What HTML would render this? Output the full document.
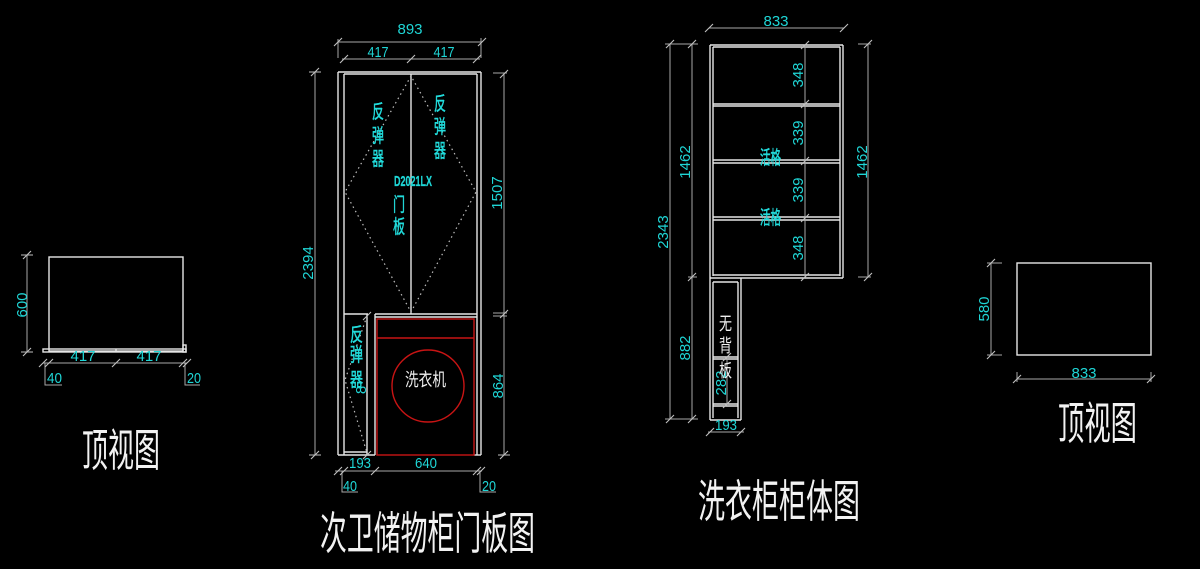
<!DOCTYPE html>
<html><head><meta charset="utf-8"><style>
html,body{margin:0;padding:0;background:#000;}
svg{display:block}
.w{stroke:#e6e6e6;stroke-width:1.4;fill:none}
.d{stroke:#a8a8a8;stroke-width:1;fill:none}
.t{stroke:#c0c0c0;stroke-width:1.1;fill:none}
.r{stroke:#c81414;stroke-width:1.4;fill:none}
.dot{stroke:#bdbdbd;stroke-width:1.2;fill:none;stroke-dasharray:1.5 3.5}
.c{fill:#1fd6d6;font-family:"Liberation Sans",sans-serif;font-size:15px}
.cj{fill:#22dcdc;stroke:#22dcdc;stroke-width:0.5;font-family:"Liberation Sans","Noto Sans CJK SC",sans-serif;font-size:19px}
.wj{fill:#f0f0f0;font-family:"Liberation Sans","Noto Sans CJK SC",sans-serif;font-size:18px}
.ti{fill:#f2f2f2;font-family:"Liberation Sans","Noto Sans CJK SC",sans-serif;font-size:45px}
</style></head><body>
<svg width="1200" height="569" viewBox="0 0 1200 569" xmlns="http://www.w3.org/2000/svg">
<rect width="1200" height="569" fill="#000"/>

<!-- ===== Left top view ===== -->
<rect class="w" x="49" y="257" width="134" height="94"/>
<rect class="w" x="43" y="349" width="143" height="3"/>
<line class="w" x1="116" y1="349" x2="116" y2="352"/>
<rect class="w" x="183" y="345" width="3" height="7"/>
<line class="d" x1="27" y1="255" x2="27" y2="352"/>
<line class="d" x1="43" y1="363" x2="187" y2="363"/>
<polyline class="d" points="45,363 45,385 62,385"/>
<polyline class="d" points="185,363 185,385 200,385"/>
<text class="c" text-anchor="middle" transform="translate(22,305) rotate(-90)" y="5">600</text>
<text class="c" x="83" y="361" text-anchor="middle">417</text>
<text class="c" x="149" y="361" text-anchor="middle">417</text>
<text class="c" x="47" y="383" textLength="15" lengthAdjust="spacingAndGlyphs">40</text>
<text class="c" x="187" y="383" textLength="14" lengthAdjust="spacingAndGlyphs">20</text>
<text class="ti" x="82" y="466" textLength="78" lengthAdjust="spacingAndGlyphs">顶视图</text>

<!-- ===== Middle cabinet (door panels) ===== -->
<line class="w" x1="338" y1="72" x2="338" y2="455"/>
<line class="w" x1="344" y1="74" x2="344" y2="455"/>
<line class="w" x1="481" y1="72" x2="481" y2="455"/>
<line class="w" x1="477" y1="74" x2="477" y2="455"/>
<line class="w" x1="338" y1="72" x2="481" y2="72"/>
<line class="w" x1="344" y1="74" x2="477" y2="74"/>
<line class="w" x1="411" y1="74" x2="411" y2="314"/>
<line class="w" x1="344" y1="314" x2="368" y2="314"/>
<line class="w" x1="375" y1="314" x2="477" y2="314"/>
<line class="w" x1="375" y1="317" x2="477" y2="317"/>
<line class="w" x1="367" y1="314" x2="367" y2="455"/>
<line class="w" x1="375" y1="314" x2="375" y2="455"/>
<line class="w" x1="338" y1="455" x2="375" y2="455"/>
<line class="w" x1="344" y1="452" x2="367" y2="452"/>
<line class="w" x1="474" y1="455" x2="481" y2="455"/>
<!-- washer -->
<rect class="r" x="377" y="319" width="97" height="136"/>
<line class="r" x1="377" y1="338" x2="474" y2="338"/>
<circle class="r" cx="428" cy="386" r="36"/>
<text class="wj" x="405" y="386" font-size="16" textLength="41" lengthAdjust="spacingAndGlyphs">洗衣机</text>
<!-- dotted opening lines -->
<polygon class="dot" points="411,76 345,192 411,312 476,192"/>
<polyline class="dot" points="367,316 345,380 367,453"/>
<!-- labels -->
<text class="cj" x="372" y="118" textLength="12" lengthAdjust="spacingAndGlyphs">反</text>
<text class="cj" x="372" y="142" textLength="12" lengthAdjust="spacingAndGlyphs">弹</text>
<text class="cj" x="372" y="165" textLength="12" lengthAdjust="spacingAndGlyphs">器</text>
<text class="cj" x="434" y="110" textLength="12" lengthAdjust="spacingAndGlyphs">反</text>
<text class="cj" x="434" y="133" textLength="12" lengthAdjust="spacingAndGlyphs">弹</text>
<text class="cj" x="434" y="157" textLength="12" lengthAdjust="spacingAndGlyphs">器</text>
<text class="c" x="394" y="186" font-size="17" font-weight="bold" stroke="#1fd6d6" stroke-width="0.3" textLength="38" lengthAdjust="spacingAndGlyphs">D2021LX</text>
<text class="cj" x="393" y="211" textLength="12" lengthAdjust="spacingAndGlyphs">门</text>
<text class="cj" x="393" y="233" textLength="12" lengthAdjust="spacingAndGlyphs">板</text>
<text class="cj" x="350" y="341" textLength="13" lengthAdjust="spacingAndGlyphs">反</text>
<text class="cj" x="350" y="361" textLength="13" lengthAdjust="spacingAndGlyphs">弹</text>
<text class="cj" x="350" y="386" textLength="13" lengthAdjust="spacingAndGlyphs">器</text>
<text class="c" text-anchor="middle" transform="translate(361,390) rotate(-90)" y="5">8</text>
<!-- dims -->
<line class="d" x1="338" y1="42" x2="482" y2="42"/>
<line class="d" x1="338" y1="39" x2="338" y2="58"/>
<line class="d" x1="481" y1="38" x2="481" y2="58"/>
<line class="d" x1="342" y1="59" x2="480" y2="59"/>
<line class="d" x1="315" y1="72" x2="315" y2="455"/>
<line class="d" x1="504" y1="73" x2="504" y2="455"/>
<line class="d" x1="493" y1="73" x2="507" y2="73"/>
<line class="d" x1="493" y1="313" x2="507" y2="313"/>
<line class="d" x1="493" y1="316" x2="507" y2="316"/>
<line class="d" x1="335" y1="471" x2="482" y2="471"/>
<polyline class="d" points="342,471 342,492 358,492"/>
<polyline class="d" points="480,471 480,492 496,492"/>
<text class="c" x="410" y="34" text-anchor="middle">893</text>
<text class="c" x="378" y="57" text-anchor="middle" textLength="21" lengthAdjust="spacingAndGlyphs">417</text>
<text class="c" x="444" y="57" text-anchor="middle" textLength="21" lengthAdjust="spacingAndGlyphs">417</text>
<text class="c" text-anchor="middle" transform="translate(308,263) rotate(-90)" y="5">2394</text>
<text class="c" text-anchor="middle" transform="translate(497,193) rotate(-90)" y="5">1507</text>
<text class="c" text-anchor="middle" transform="translate(498,386) rotate(-90)" y="5">864</text>
<text class="c" x="360" y="468" text-anchor="middle" textLength="22" lengthAdjust="spacingAndGlyphs">193</text>
<text class="c" x="426" y="468" text-anchor="middle" textLength="22" lengthAdjust="spacingAndGlyphs">640</text>
<text class="c" x="343" y="491" textLength="14" lengthAdjust="spacingAndGlyphs">40</text>
<text class="c" x="482" y="491" textLength="14" lengthAdjust="spacingAndGlyphs">20</text>
<text class="ti" x="320" y="549" textLength="215" lengthAdjust="spacingAndGlyphs">次卫储物柜门板图</text>

<!-- ===== Right cabinet body ===== -->
<line class="w" x1="710" y1="45" x2="710" y2="420"/>
<line class="w" x1="713" y1="47" x2="713" y2="276"/>
<line class="w" x1="843" y1="45" x2="843" y2="278"/>
<line class="w" x1="840" y1="47" x2="840" y2="276"/>
<line class="w" x1="710" y1="45" x2="843" y2="45"/>
<line class="w" x1="713" y1="47" x2="840" y2="47"/>
<line class="w" x1="713" y1="104" x2="840" y2="104"/>
<line class="w" x1="713" y1="106" x2="840" y2="106"/>
<line class="w" x1="713" y1="160" x2="840" y2="160"/>
<line class="w" x1="713" y1="163" x2="840" y2="163"/>
<line class="w" x1="713" y1="217" x2="840" y2="217"/>
<line class="w" x1="713" y1="220" x2="840" y2="220"/>
<line class="w" x1="713" y1="275" x2="840" y2="275"/>
<line class="w" x1="710" y1="278" x2="843" y2="278"/>
<!-- lower narrow -->
<line class="w" x1="741" y1="278" x2="741" y2="420"/>
<line class="w" x1="713" y1="282" x2="713" y2="418"/>
<line class="w" x1="738" y1="282" x2="738" y2="418"/>
<line class="w" x1="713" y1="282" x2="738" y2="282"/>
<line class="w" x1="713" y1="357" x2="738" y2="357"/>
<line class="w" x1="713" y1="359" x2="738" y2="359"/>
<line class="w" x1="713" y1="404" x2="738" y2="404"/>
<line class="w" x1="713" y1="406" x2="738" y2="406"/>
<line class="w" x1="710" y1="420" x2="741" y2="420"/>
<!-- dims -->
<line class="d" x1="709" y1="28" x2="844" y2="28"/>
<line class="d" x1="805" y1="45" x2="805" y2="277"/>
<line class="d" x1="868" y1="44" x2="868" y2="277"/>
<line class="d" x1="858" y1="44" x2="871" y2="44"/>
<line class="d" x1="858" y1="277" x2="871" y2="277"/>
<line class="d" x1="670" y1="44" x2="670" y2="419"/>
<line class="d" x1="692" y1="44" x2="692" y2="419"/>
<line class="d" x1="665" y1="44" x2="698" y2="44"/>
<line class="d" x1="665" y1="419" x2="698" y2="419"/>
<line class="d" x1="688" y1="277" x2="697" y2="277"/>
<line class="d" x1="727" y1="357" x2="727" y2="404"/>
<line class="d" x1="708" y1="432" x2="744" y2="432"/>
<text class="c" x="776" y="26" text-anchor="middle">833</text>
<text class="c" text-anchor="middle" transform="translate(798,75) rotate(-90)" y="5">348</text>
<text class="c" text-anchor="middle" transform="translate(798,133) rotate(-90)" y="5">339</text>
<text class="c" text-anchor="middle" transform="translate(798,190) rotate(-90)" y="5">339</text>
<text class="c" text-anchor="middle" transform="translate(798,248) rotate(-90)" y="5">348</text>
<text class="c" text-anchor="middle" transform="translate(862,162) rotate(-90)" y="5">1462</text>
<text class="c" text-anchor="middle" transform="translate(685,162) rotate(-90)" y="5">1462</text>
<text class="c" text-anchor="middle" transform="translate(663,232) rotate(-90)" y="5">2343</text>
<text class="c" text-anchor="middle" transform="translate(685,348) rotate(-90)" y="5">882</text>
<text class="c" text-anchor="middle" transform="translate(721,383) rotate(-90)" y="5">282</text>
<text class="c" x="726" y="430" text-anchor="middle" textLength="22" lengthAdjust="spacingAndGlyphs">193</text>
<text class="cj" x="760" y="164" font-size="15" textLength="21" lengthAdjust="spacingAndGlyphs">活格</text>
<text class="cj" x="760" y="224" font-size="15" textLength="21" lengthAdjust="spacingAndGlyphs">活格</text>
<text class="wj" x="719" y="330" textLength="13" lengthAdjust="spacingAndGlyphs">无</text>
<text class="wj" x="719" y="352" textLength="13" lengthAdjust="spacingAndGlyphs">背</text>
<text class="wj" x="719" y="377" textLength="13" lengthAdjust="spacingAndGlyphs">板</text>
<text class="ti" x="698" y="517" textLength="162" lengthAdjust="spacingAndGlyphs">洗衣柜柜体图</text>

<!-- ===== Right top view ===== -->
<rect class="w" x="1017" y="263" width="134" height="92"/>
<line class="d" x1="991" y1="263" x2="991" y2="355"/>
<line class="d" x1="987" y1="263" x2="1002" y2="263"/>
<line class="d" x1="987" y1="355" x2="1002" y2="355"/>
<line class="d" x1="1017" y1="379" x2="1151" y2="379"/>
<line class="d" x1="1017" y1="372" x2="1017" y2="382"/>
<line class="d" x1="1151" y1="372" x2="1151" y2="382"/>
<text class="c" text-anchor="middle" transform="translate(984,309) rotate(-90)" y="5">580</text>
<text class="c" x="1084" y="378" text-anchor="middle">833</text>
<text class="ti" x="1058" y="439" textLength="79" lengthAdjust="spacingAndGlyphs">顶视图</text>

<!-- ===== Dimension ticks ===== -->
<path class="t" d="
M23 259 L31 251 M21 255 L33 255
M23 356 L31 348 M21 352 L33 352
M39 367 L47 359 M45 367 L53 359 M112 367 L120 359 M179 367 L187 359 M183 367 L191 359
M334 46 L342 38 M478 46 L486 38
M340 63 L348 55 M407 63 L415 55 M473 63 L481 55
M311 76 L319 68 M309 72 L321 72
M311 459 L319 451 M309 455 L321 455
M500 78 L508 70
M500 318 L508 310
M500 459 L508 451 M498 455 L510 455
M334 475 L342 467 M340 475 L348 467 M371 475 L379 467 M473 475 L481 467 M477 475 L485 467
M363 320 L371 312 M363 459 L371 451
M705 32 L713 24 M840 32 L848 24
M666 48 L674 40 M688 48 L696 40 M864 48 L872 40
M801 49 L809 41 M801 108 L809 100 M801 165 L809 157 M801 222 L809 214 M801 281 L809 273
M688 281 L696 273 M864 281 L872 273
M666 423 L674 415 M688 423 L696 415
M723 361 L731 353 M723 408 L731 400
M706 436 L714 428 M737 436 L745 428
M987 267 L995 259 M987 359 L995 351
M1013 383 L1021 375 M1147 383 L1155 375
"/>
</svg>
</body></html>
